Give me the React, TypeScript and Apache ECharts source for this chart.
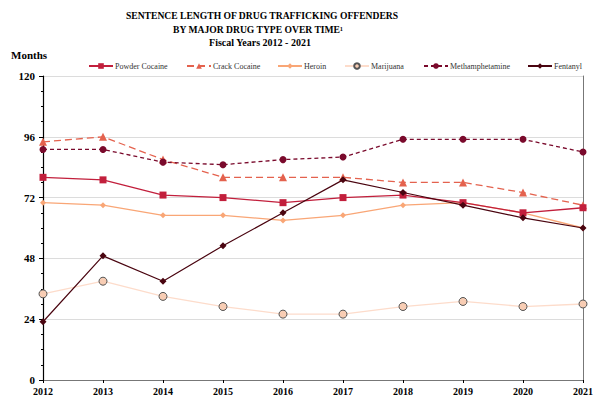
import React, { useEffect, useRef } from "react";
import * as echarts from "echarts";

const years = ["2012", "2013", "2014", "2015", "2016", "2017", "2018", "2019", "2020", "2021"];
const powderCocaine = [80, 79, 73, 72, 70, 72, 73, 70, 66, 68];
const crackCocaine = [94, 96, 87, 80, 80, 80, 78, 78, 74, 69];
const heroin = [70, 69, 65, 65, 63, 65, 69, 70, 66, 60];
const marijuana = [34, 39, 33, 29, 26, 26, 29, 31, 29, 30];
const methamphetamine = [91, 91, 86, 85, 87, 88, 95, 95, 95, 90];
const fentanyl = [23, 49, 39, 53, 66, 79, 74, 69, 64, 60];
const yTicks = [0, 24, 48, 72, 96, 120];

const FONT = "'Liberation Serif', 'Times New Roman', serif";

export default function App() {
  const ref = useRef<HTMLDivElement>(null);
  useEffect(() => {
    if (!ref.current) return;
    const chart = echarts.init(ref.current, null, { renderer: "svg" });

    const mk = (name: string, data: number[], color: string, opts: any) => ({
      name,
      type: "line",
      data,
      symbol: opts.symbol,
      symbolSize: opts.size,
      showSymbol: true,
      lineStyle: { color: opts.lineColor || color, width: opts.width || 1.3, type: opts.dash || "solid" },
      itemStyle: {
        color: opts.fill || color,
        borderColor: opts.border || color,
        borderWidth: opts.borderWidth || 0,
      },
      z: opts.z || 2,
    });

    const series = [
      mk("Marijuana", marijuana, "#FBD8C4", { symbol: "circle", size: 8, fill: "#F8CDB4", border: "#555", borderWidth: 1, lineColor: "#FDDCCB", width: 1.3, z: 1 }),
      mk("Heroin", heroin, "#F9A676", { symbol: "diamond", size: 6, width: 1.3 }),
      mk("Crack Cocaine", crackCocaine, "#E4624E", { symbol: "triangle", size: 8, dash: [7, 4] }),
      mk("Methamphetamine", methamphetamine, "#7A0A2C", { symbol: "circle", size: 7, dash: [4, 3] }),
      mk("Powder Cocaine", powderCocaine, "#C21F3C", { symbol: "rect", size: 7 }),
      mk("Fentanyl", fentanyl, "#4A0510", { symbol: "diamond", size: 7, width: 1.2, z: 3 }),
    ];

    const legendPos: [string, number][] = [
      ["Powder Cocaine", 88],
      ["Crack Cocaine", 186],
      ["Heroin", 277],
      ["Marijuana", 344],
      ["Methamphetamine", 423],
      ["Fentanyl", 527],
    ];

    const legends = legendPos.map(([name, left]) => ({
      data: [name],
      left,
      top: 62,
      itemWidth: 24,
      itemHeight: 7,
      itemGap: 0,
      textStyle: { fontFamily: FONT, fontSize: 8, color: "#333", padding: [0, 0, 0, -3] },
      padding: 0,
    }));

    chart.setOption({
      animation: false,
      backgroundColor: "#fff",
      textStyle: { fontFamily: FONT },
      legend: legends,
      graphic: [
        { type: "text", x: 262, y: 10, style: { text: "SENTENCE LENGTH OF DRUG TRAFFICKING OFFENDERS", font: `bold 9.6px ${FONT}`, fill: "#000", textAlign: "center" } },
        { type: "text", x: 258, y: 24, style: { text: "BY MAJOR DRUG TYPE OVER TIME\u00B9", font: `bold 9.6px ${FONT}`, fill: "#000", textAlign: "center" } },
        { type: "text", x: 260, y: 37, style: { text: "Fiscal Years 2012 - 2021", font: `bold 10px ${FONT}`, fill: "#000", textAlign: "center" } },
        { type: "text", x: 11, y: 49, style: { text: "Months", font: `bold 11px ${FONT}`, fill: "#000" } },
      ],
      grid: { left: 43, right: 17, top: 76, bottom: 23, containLabel: false },
      xAxis: [
        {
          type: "category",
          data: years,
          boundaryGap: false,
          axisLine: { lineStyle: { color: "#000", width: 1.2 } },
          axisTick: { show: true, length: 3, lineStyle: { color: "#000" } },
          axisLabel: { fontFamily: FONT, fontWeight: "bold", fontSize: 10, color: "#000", margin: 6 },
        },
        {
          type: "category",
          data: years,
          boundaryGap: false,
          position: "top",
          axisLine: { lineStyle: { color: "#777", width: 1 } },
          axisTick: { show: false },
          axisLabel: { show: false },
        },
      ],
      yAxis: [
        {
          type: "value",
          min: 0,
          max: 120,
          interval: 24,
          axisLine: { show: true, lineStyle: { color: "#000", width: 1.2 } },
          axisTick: { show: true, length: 4, lineStyle: { color: "#000" } },
          minorTick: { show: true, splitNumber: 4, length: 2, lineStyle: { color: "#000" } },
          axisLabel: {
            fontFamily: FONT,
            fontWeight: "bold",
            fontSize: 11,
            color: "#000",
            margin: 8,
            formatter: (v: number) => (yTicks.includes(v) ? String(v) : ""),
          },
          splitLine: { show: true, lineStyle: { color: "#dcdcdc", width: 1 } },
        },
        {
          type: "value",
          min: 0,
          max: 120,
          interval: 24,
          position: "right",
          axisLine: { show: true, lineStyle: { color: "#777", width: 1 } },
          axisTick: { show: false },
          axisLabel: { show: false },
          splitLine: { show: false },
        },
      ],
      series,
    });
    return () => chart.dispose();
  }, []);
  return <div ref={ref} style={{ width: 600, height: 403, position: "absolute", left: 0, top: 0 }} />;
}
